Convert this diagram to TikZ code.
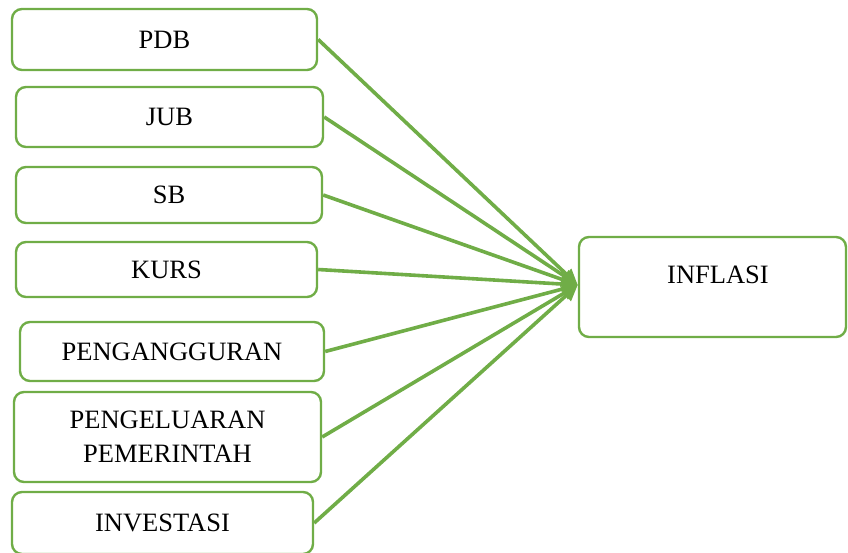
\documentclass[tikz,border=0pt]{standalone}
\usepackage{fontspec}
\setmainfont{Liberation Serif}
\usetikzlibrary{arrows.meta}
\definecolor{grn}{HTML}{70AD47}
\begin{document}
\begin{tikzpicture}[x=1pt,y=-1pt,
  box/.style={draw=grn, line width=2.4pt, rounded corners=10pt, fill=white, inner sep=0pt,
    font=\fontsize{26.5}{34}\selectfont, align=center},
  conn/.style={draw=grn, line width=3.6pt, -{Triangle[length=16pt,width=14pt]}}]
\useasboundingbox (0,0) rectangle (848,553);
\node[box, minimum width=305pt, minimum height=61pt] (pdb) at (164.5,39.5) {PDB};
\node[box, minimum width=307pt, minimum height=60pt] (jub) at (169.5,117) {JUB};
\node[box, minimum width=306pt, minimum height=56pt] (sb) at (169,195) {SB};
\node[box, minimum width=301pt, minimum height=55pt] (kurs) at (166.5,269.5) {KURS};
\node[box, minimum width=304pt, minimum height=59pt] (peng) at (172,351.5) {PENGANGGURAN};
\node[box, minimum width=307pt, minimum height=90pt] (pem) at (167.5,437) {PENGELUARAN\\PEMERINTAH};
\node[box, minimum width=301pt, minimum height=62pt] (inv) at (162.5,523) {INVESTASI};
\node[box, minimum width=267pt, minimum height=100pt] (inf) at (712.5,287) {};
\node[font=\fontsize{26.5}{34}\selectfont, inner sep=0pt] (inft) at (718,275) {INFLASI};
\coordinate (tip) at ([yshift=2pt]inf.west);
\foreach \n in {pdb,jub,sb,kurs,peng,pem,inv}
  \draw[conn] (\n.east) -- (tip);
\end{tikzpicture}
\end{document}
